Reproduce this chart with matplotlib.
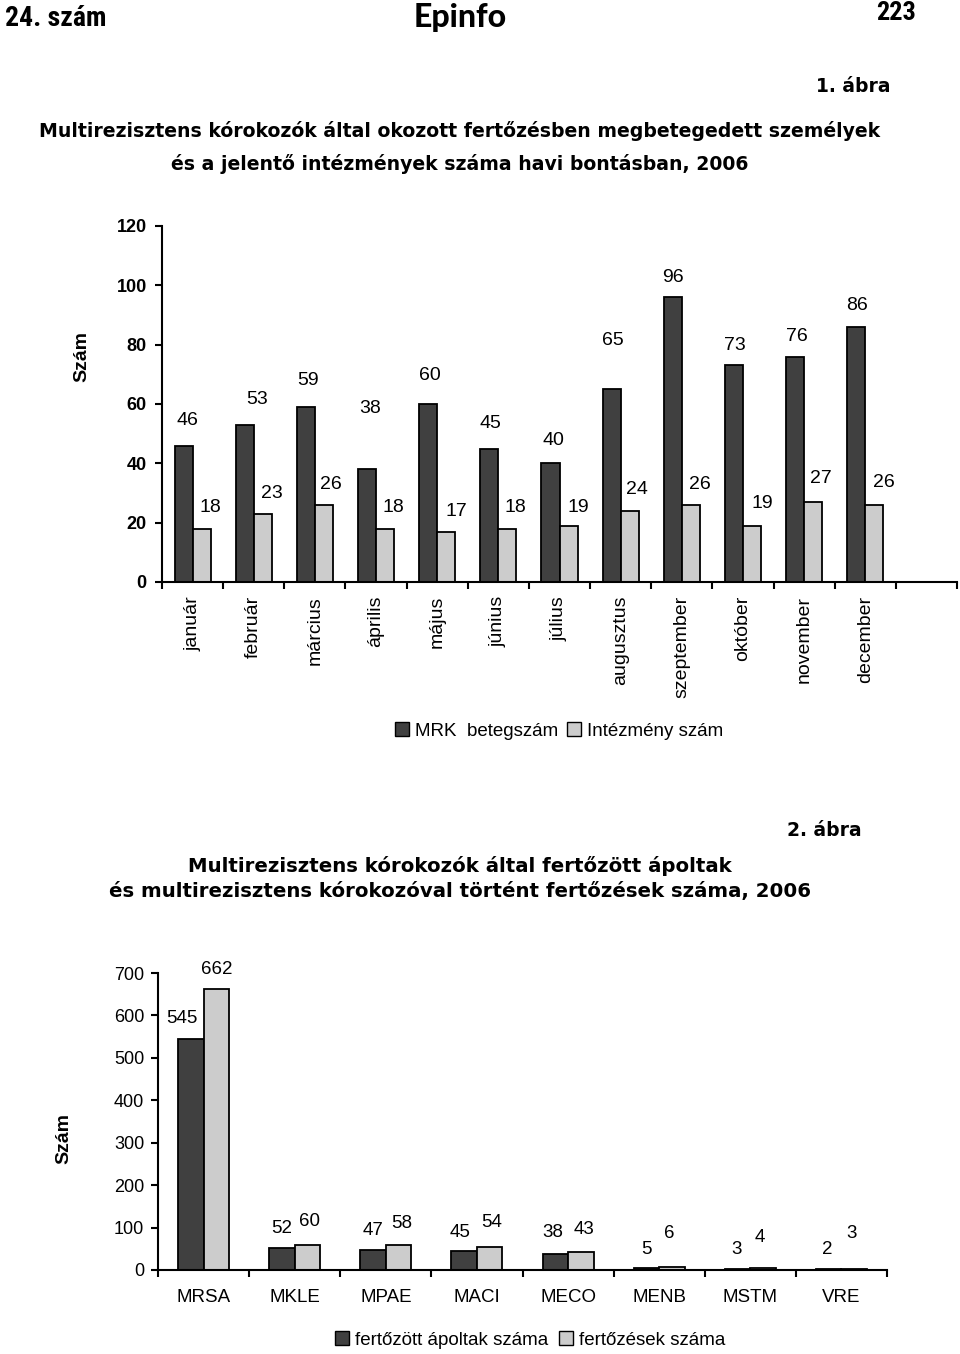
import matplotlib
matplotlib.use('Agg')
import matplotlib.pyplot as plt
from matplotlib.patches import Patch
from matplotlib import font_manager
import numpy as np

# ---------------- data ----------------
months = ['január', 'február', 'március', 'április', 'május', 'június',
          'július', 'augusztus', 'szeptember', 'október', 'november', 'december']
mrk_patients = [46, 53, 59, 38, 60, 45, 40, 65, 96, 73, 76, 86]
institutions = [18, 23, 26, 18, 17, 18, 19, 24, 26, 19, 27, 26]

pathogens = ['MRSA', 'MKLE', 'MPAE', 'MACI', 'MECO', 'MENB', 'MSTM', 'VRE']
infected_patients = [545, 52, 47, 45, 38, 5, 3, 2]
infections = [662, 60, 58, 54, 43, 6, 4, 3]

chart1_yticks = [0, 20, 40, 60, 80, 100, 120]
chart2_yticks = [0, 100, 200, 300, 400, 500, 600, 700]

# label offsets (pixels): (dx, dy) relative to bar top centre
c1_dark_dx = [4, 12, 2, 3, 2, 1.5, 2.5, 1, 0, 1, 2, 0.5]
c1_dark_dy = [25.5, 24.8, 26, 61, 29, 25.5, 23, 49, 20, 20, 20.5, 21]
c1_light_dx = [8.5, 9.4, 7.2, 8.1, 9.9, 7.7, 9.6, 7.4, 9.3, 10.1, 8, 9.8]
c1_light_dy = [20.6, 20, 20, 20.6, 19.6, 20.6, 18.6, 20.8, 20, 22.6, 23, 22]
c2_dark_dx = [-9, 0, 0, -4, -3, 0, -1, -1]
c2_dark_dy = [19.8, 19.9, 20, 18.6, 21, 18.6, 19.4, 20]
c2_light_dx = [0, 2, 3, 2, 3, -3, -3.5, -3]
c2_light_dy = [19.8, 23.5, 22, 24.4, 22, 34, 31, 35]

DARK = '#404040'
LIGHT = '#cccccc'


def pick(*names):
    avail = {f.name for f in font_manager.fontManager.ttflist}
    for n in names:
        if n in avail:
            return n
    return 'DejaVu Sans'


SANS = pick('Liberation Sans', 'Arial', 'DejaVu Sans')
NARROW = pick('Liberation Sans Narrow', 'Arial Narrow', 'Roboto Condensed', 'Liberation Sans')
TITLE = 'DejaVu Sans'
plt.rcParams['font.family'] = [SANS, 'DejaVu Sans']

W, H = 960, 1354
fig = plt.figure(figsize=(W / 100, H / 100), dpi=100)


def fx(px):
    return px / W


def fy(py):
    return 1 - py / H


PX = 0.72  # points per pixel

# ---------------- header ----------------
fig.text(fx(5), fy(18), '24. szám', family=NARROW, weight='bold', fontsize=20,
         ha='left', va='center')
fig.text(fx(460), fy(18), 'Epinfo', family=[pick('Lato', 'DejaVu Sans')], weight='black',
         fontsize=23, ha='center', va='center')
fig.text(fx(916), fy(13), '223', family=NARROW, weight='bold', fontsize=19,
         ha='right', va='center')
fig.text(fx(890), fy(86), '1. ábra', family=TITLE, weight='bold', fontsize=13.5,
         ha='right', va='center')
fig.text(fx(460), fy(131),
         'Multirezisztens kórokozók által okozott fertőzésben megbetegedett személyek',
         family=TITLE, weight='bold', fontsize=13.6, ha='center', va='center')
fig.text(fx(460), fy(164), 'és a jelentő intézmények száma havi bontásban, 2006',
         family=TITLE, weight='bold', fontsize=13.6, ha='center', va='center')


def style_axes(ax):
    for s in ('top', 'right'):
        ax.spines[s].set_visible(False)
    for s in ('left', 'bottom'):
        ax.spines[s].set_linewidth(1.5)
        ax.spines[s].set_color('black')
    ax.tick_params(axis='both', which='major', direction='out', length=5, width=1.5)
    ax.tick_params(axis='x', which='minor', length=0)


# ---------------- chart 1 ----------------
ax1 = fig.add_axes([fx(162), fy(582), fx(957) - fx(162), fy(226) - fy(582)])
n1 = len(months)
nslots1 = n1 + 1
x1 = np.arange(n1) + 0.5
bw1 = 0.295
ax1.bar(x1 - bw1 / 2, mrk_patients, width=bw1, color=DARK, edgecolor='black', linewidth=1.3)
ax1.bar(x1 + bw1 / 2, institutions, width=bw1, color=LIGHT, edgecolor='black', linewidth=1.3)
ax1.set_xlim(0, nslots1)
ax1.set_ylim(0, 120)
ax1.set_yticks(chart1_yticks)
ax1.set_yticklabels([str(t) for t in chart1_yticks], fontsize=13, weight='bold')
ax1.set_xticks(np.arange(nslots1 + 1))
ax1.set_xticklabels([])
ax1.set_xticks(x1, minor=True)
ax1.set_xticklabels(months, minor=True, rotation=90, fontsize=14, va='top', ha='center')
style_axes(ax1)
ax1.tick_params(axis='y', pad=6)
ax1.tick_params(axis='x', which='minor', pad=10)
for i in range(n1):
    ax1.annotate(str(mrk_patients[i]), xy=(x1[i] - bw1 / 2, mrk_patients[i]),
                 xytext=(c1_dark_dx[i] * PX, c1_dark_dy[i] * PX), textcoords='offset points',
                 ha='center', va='center', fontsize=14)
    ax1.annotate(str(institutions[i]), xy=(x1[i] + bw1 / 2, institutions[i]),
                 xytext=(c1_light_dx[i] * PX, c1_light_dy[i] * PX), textcoords='offset points',
                 ha='center', va='center', fontsize=14)
fig.text(fx(82), fy(357), 'Szám', rotation=90, weight='bold', fontsize=14,
         ha='center', va='center')
fig.legend(handles=[Patch(facecolor=DARK, edgecolor='black', label='MRK  betegszám'),
                    Patch(facecolor=LIGHT, edgecolor='black', label='Intézmény szám')],
           loc='center', bbox_to_anchor=(fx(559), fy(731)), ncol=2, frameon=False,
           fontsize=13.5, handlelength=0.75, handleheight=0.75, handletextpad=0.3,
           columnspacing=0.5, borderaxespad=0)

# ---------------- chart 2 ----------------
fig.text(fx(862), fy(831), '2. ábra', family=TITLE, weight='bold', fontsize=13.5,
         ha='right', va='center')
fig.text(fx(460), fy(866), 'Multirezisztens kórokozók által fertőzött ápoltak',
         family=TITLE, weight='bold', fontsize=14.2, ha='center', va='center')
fig.text(fx(460), fy(891), 'és multirezisztens kórokozóval történt fertőzések száma, 2006',
         family=TITLE, weight='bold', fontsize=14.2, ha='center', va='center')

ax2 = fig.add_axes([fx(158), fy(1270), fx(887) - fx(158), fy(973) - fy(1270)])
n2 = len(pathogens)
x2 = np.arange(n2) + 0.5
bw2 = 0.28
ax2.bar(x2 - bw2 / 2, infected_patients, width=bw2, color=DARK, edgecolor='black', linewidth=1.3)
ax2.bar(x2 + bw2 / 2, infections, width=bw2, color=LIGHT, edgecolor='black', linewidth=1.3)
ax2.set_xlim(0, n2)
ax2.set_ylim(0, 700)
ax2.set_yticks(chart2_yticks)
ax2.set_yticklabels([str(t) for t in chart2_yticks], fontsize=13)
ax2.set_xticks(np.arange(n2 + 1))
ax2.set_xticklabels([])
ax2.set_xticks(x2, minor=True)
ax2.set_xticklabels(pathogens, minor=True, fontsize=13.5)
style_axes(ax2)
ax2.tick_params(axis='y', pad=5)
ax2.tick_params(axis='x', which='minor', pad=14)
for i in range(n2):
    ax2.annotate(str(infected_patients[i]), xy=(x2[i] - bw2 / 2, infected_patients[i]),
                 xytext=(c2_dark_dx[i] * PX, c2_dark_dy[i] * PX), textcoords='offset points',
                 ha='center', va='center', fontsize=13.5)
    ax2.annotate(str(infections[i]), xy=(x2[i] + bw2 / 2, infections[i]),
                 xytext=(c2_light_dx[i] * PX, c2_light_dy[i] * PX), textcoords='offset points',
                 ha='center', va='center', fontsize=13.5)
fig.text(fx(64), fy(1138), 'Szám', rotation=90, weight='bold', fontsize=14,
         ha='center', va='center')
fig.legend(handles=[Patch(facecolor=DARK, edgecolor='black', label='fertőzött ápoltak száma'),
                    Patch(facecolor=LIGHT, edgecolor='black', label='fertőzések száma')],
           loc='center', bbox_to_anchor=(fx(530), fy(1340)), ncol=2, frameon=False,
           fontsize=13.5, handlelength=0.75, handleheight=0.75, handletextpad=0.3,
           columnspacing=0.6, borderaxespad=0)

fig.savefig('out.png', dpi=100)
